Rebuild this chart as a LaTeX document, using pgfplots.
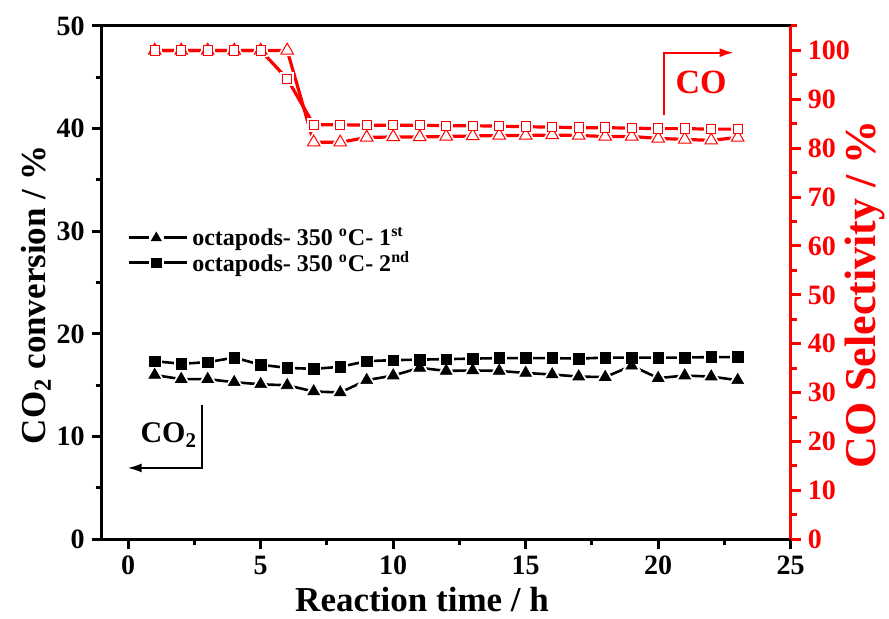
\documentclass[border=0pt]{standalone}
\usepackage{fontspec}
\setmainfont{Liberation Serif}
\usepackage{pgfplots}
\usepackage{pgfplotstable}
\pgfplotsset{compat=1.18}
\usetikzlibrary{arrows.meta}
\definecolor{myred}{RGB}{255,0,0}

\pgfplotstableread{
x y
1 16.0
2 15.6
3 15.6
4 15.3
5 15.1
6 15.0
7 14.4
8 14.3
9 15.5
10 15.95
11 16.7
12 16.4
13 16.45
14 16.4
15 16.2
16 16.05
17 15.85
18 15.8
19 16.9
20 15.7
21 15.95
22 15.85
23 15.5
}\convA

\pgfplotstableread{
x y
1 17.35
2 17.1
3 17.25
4 17.7
5 17.0
6 16.7
7 16.6
8 16.8
9 17.35
10 17.45
11 17.5
12 17.55
13 17.6
14 17.65
15 17.65
16 17.65
17 17.6
18 17.7
19 17.7
20 17.7
21 17.7
22 17.75
23 17.75
}\convB

\pgfplotstableread{
x y
1 100
2 100
3 100
4 100
5 100
6 100
7 81.2
8 81.2
9 82.2
10 82.3
11 82.3
12 82.4
13 82.5
14 82.6
15 82.6
16 82.7
17 82.6
18 82.4
19 82.4
20 82.0
21 81.8
22 81.6
23 82.2
}\selA

\pgfplotstableread{
x y
1 100
2 100
3 100
4 100
5 100
6 94.2
7 84.8
8 84.8
9 84.7
10 84.7
11 84.7
12 84.6
13 84.6
14 84.5
15 84.4
16 84.3
17 84.2
18 84.2
19 84.1
20 84.0
21 84.0
22 83.9
23 83.9
}\selB

\begin{document}
\begin{tikzpicture}
\useasboundingbox (-50.85pt,-39.85pt) rectangle (393.65pt,269.65pt);
\begin{axis}[
  scale only axis, width=344.5pt, height=256.65pt,
  xmin=-1, xmax=25, ymin=0, ymax=50,
  xtick={0,5,...,25}, ytick={0,10,...,50},
  minor xtick={2.5,7.5,...,22.5}, minor ytick={5,15,...,45},
  xtick pos=left, ytick pos=left,
  tick align=outside,
  major tick length=5pt, minor tick length=3pt,
  axis line style={black, line width=1.5pt},
  every tick/.style={black, line width=1.5pt},
  /pgf/number format/assume math mode=true,
  tick label style={font=\bfseries\fontsize{14}{14}\selectfont},
  xlabel={Reaction time / h},
  ylabel={CO\textsubscript{2} conversion / \%},
  label style={font=\bfseries\fontsize{17.5}{18}\selectfont},
  xlabel style={at={(axis description cs:0.465,-0.118)}, anchor=center},
  ylabel style={at={(axis description cs:-0.095,0.476)}, anchor=center},
  legend style={at={(axis cs:-0.05,28.1)}, anchor=west, draw=none, fill=none,
    inner sep=0pt, row sep=-2.5pt,
    font=\bfseries\fontsize{12}{12}\selectfont},
  legend cell align=left,
  legend image code/.code={
    \draw[black, line width=1.5pt] (0pt,0pt) -- (10pt,0pt);
    \draw[black, line width=1.5pt] (17.5pt,0pt) -- (29pt,0pt);
    \draw[#1] plot coordinates {(13.75pt,0pt)};
  },
]
\addlegendimage{only marks, mark=triangle*, mark size=2.9pt, black, mark options={fill=black, line width=0.3pt}}
\addlegendentry{octapods- 350 \textsuperscript{o}C- 1\textsuperscript{st}}
\addlegendimage{only marks, mark=square*, mark size=2.4pt, black, mark options={fill=black, line width=0.3pt}}
\addlegendentry{octapods- 350 \textsuperscript{o}C- 2\textsuperscript{nd}}

\addplot[black, line width=1.3pt, forget plot] table {\convA};
\addplot[black, line width=1.3pt, forget plot] table {\convB};
\addplot[only marks, mark=triangle*, mark size=3.4pt, mark options={draw=white, fill=white, line width=2.2pt}, forget plot] table {\convA};
\addplot[only marks, mark=square*, mark size=2.65pt, mark options={draw=white, fill=white, line width=2.2pt}, forget plot] table {\convB};
\addplot[only marks, mark=triangle*, mark size=3.4pt, mark options={draw=black, fill=black, line width=0.3pt}, forget plot] table {\convA};
\addplot[only marks, mark=square*, mark size=2.65pt, mark options={draw=black, fill=black, line width=0.3pt}, forget plot] table {\convB};

\draw[myred, line width=1.1pt, -{Latex[length=7pt,width=4.5pt]}] (axis cs:20.22,41.33) -- (axis cs:20.22,47.4) -- (axis cs:22.85,47.4);
\node[myred, anchor=base west, font=\bfseries\fontsize{17}{17}\selectfont, inner sep=0pt] at (axis cs:20.64,43.44) {CO};
\draw[black, line width=0.9pt, -{Latex[length=7pt,width=4.5pt]}] (axis cs:2.77,13.08) -- (axis cs:2.77,6.95) -- (axis cs:-0.02,6.95);
\node[black, anchor=base west, font=\bfseries\fontsize{15}{15}\selectfont, inner sep=0pt] at (axis cs:0.45,9.38) {CO\textsubscript{2}};
\end{axis}

\begin{axis}[
  scale only axis, width=344.5pt, height=256.65pt,
  xmin=-1, xmax=25, ymin=0, ymax=105,
  axis x line=none, axis y line*=right,
  ytick={0,10,...,100}, minor ytick={5,15,...,105},
  tick align=outside,
  major tick length=5pt, minor tick length=3pt,
  y axis line style={myred, line width=1.5pt},
  every tick/.style={myred, line width=1.5pt},
  /pgf/number format/assume math mode=true,
  yticklabel style={myred, font=\bfseries\fontsize{14}{14}\selectfont},
  ylabel={CO Selectivity / \%},
  ylabel style={myred, font=\bfseries\fontsize{22}{22}\selectfont, at={(axis description cs:1.108,0.477)}, anchor=center},
]
\addplot[myred, line width=1.6pt] table {\selA};
\addplot[myred, line width=1.6pt] table {\selB};
\addplot[only marks, mark=triangle*, mark size=3.6pt, mark options={draw=white, fill=white, line width=2.2pt}] table {\selA};
\addplot[only marks, mark=square*, mark size=2.35pt, mark options={draw=white, fill=white, line width=2.2pt}] table {\selB};
\addplot[only marks, mark=triangle*, mark size=3.6pt, mark options={draw=myred, fill=white, line width=0.5pt}] table {\selA};
\addplot[only marks, mark=square*, mark size=2.35pt, mark options={draw=myred, fill=white, line width=0.5pt}] table {\selB};
\end{axis}
\end{tikzpicture}
\end{document}
